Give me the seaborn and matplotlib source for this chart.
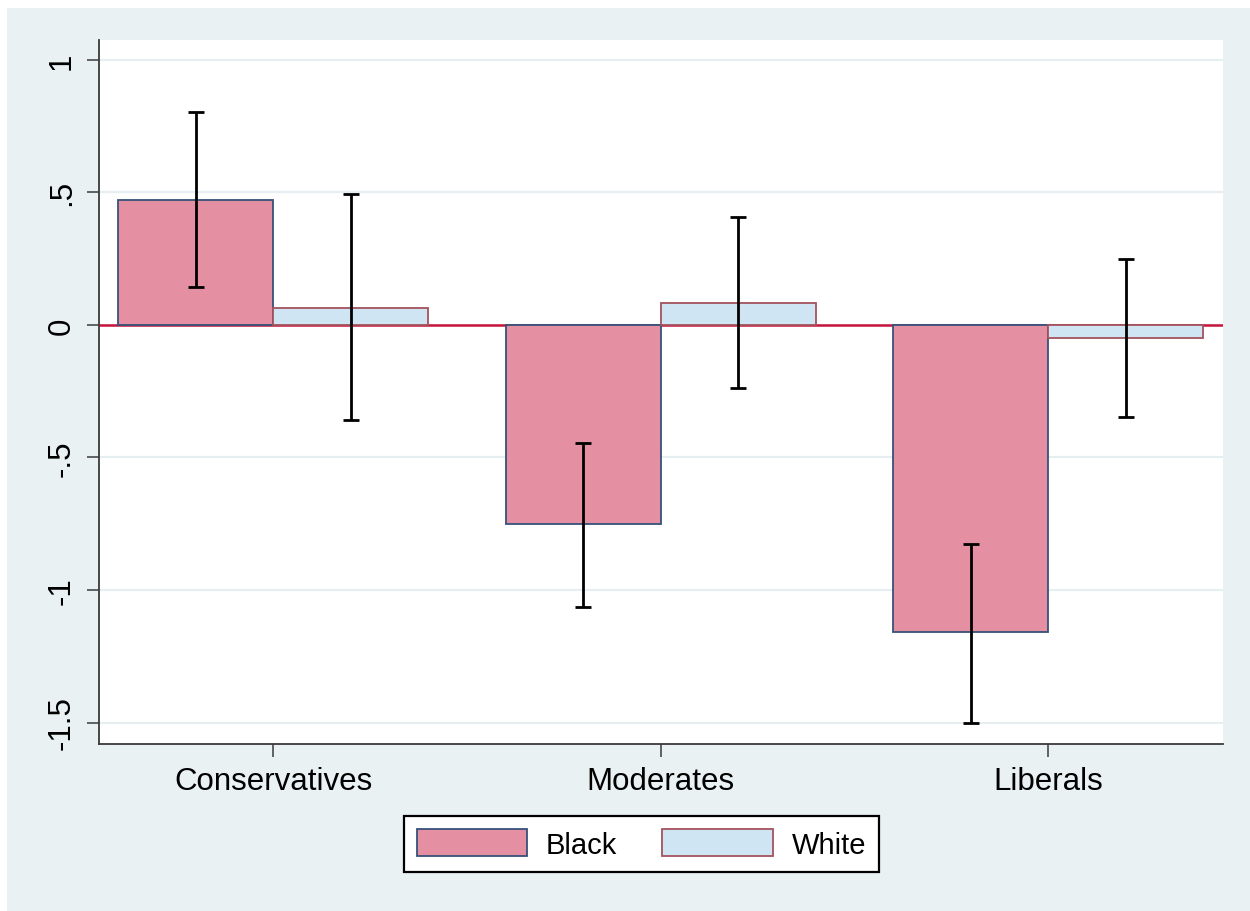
import matplotlib
matplotlib.use("Agg")
import matplotlib.pyplot as plt
from matplotlib.patches import Rectangle, Patch
import numpy as np
import pandas as pd
import seaborn as sns

# Group labels and series
groups = ["Conservatives", "Moderates", "Liberals"]
series = ["Black", "White"]

black_mean = [0.47, -0.75, -1.16]
white_mean = [0.065, 0.082, -0.048]

# 95% confidence bounds
black_lo = [0.145, -1.063, -1.503]
black_hi = [0.803, -0.447, -0.826]
white_lo = [-0.358, -0.239, -0.348]
white_hi = [0.494, 0.406, 0.248]

y_ticks = [1, 0.5, 0, -0.5, -1, -1.5]
y_tick_labels = ["1", ".5", "0", "-.5", "-1", "-1.5"]

# Styling
fill_colors = {"Black": "#E48FA2", "White": "#CFE5F4"}
edge_colors = {"Black": "#36527A", "White": "#A4525D"}
bg_color = "#EAF1F3"
grid_color = "#E6EEF1"
zero_color = "#C8143C"

sns.set_theme(style="white")
plt.rcParams["font.family"] = ["Liberation Sans", "DejaVu Sans"]

df = pd.DataFrame({
    "group": groups * 2,
    "race": ["Black"] * 3 + ["White"] * 3,
    "value": black_mean + white_mean,
})

W, H = 1250, 912
fig = plt.figure(figsize=(W / 100, H / 100), dpi=100, facecolor="white")
fig.patches.append(Rectangle((7 / W, 0), 1 - 7 / W, 1 - 9 / H,
                             transform=fig.transFigure, facecolor=bg_color,
                             edgecolor="none", zorder=-10))

ax = fig.add_axes([99 / W, 1 - 745 / H, (1222.5 - 99) / W, (745 - 41) / H])
ax.set_facecolor("white")

sns.barplot(data=df, x="group", y="value", hue="race", order=groups,
            hue_order=series, palette=[fill_colors[s] for s in series],
            errorbar=None, width=0.8, saturation=1, ax=ax, zorder=3)

lows = {"Black": black_lo, "White": white_lo}
highs = {"Black": black_hi, "White": white_hi}
for cont, s in zip(ax.containers, series):
    xs = []
    for bar in cont:
        bar.set_edgecolor(edge_colors[s])
        bar.set_linewidth(1.3)
        xs.append(bar.get_x() + bar.get_width() / 2)
    lo = np.array(lows[s])
    hi = np.array(highs[s])
    mid = (lo + hi) / 2
    ax.errorbar(xs, mid, yerr=[mid - lo, hi - mid], fmt="none",
                ecolor="black", elinewidth=2.0, capsize=5.8, capthick=2.0,
                zorder=5)

ax.axhline(0, color=zero_color, linewidth=1.8, zorder=2)

ax.set_xlim(-0.45, 2.45)
ax.set_ylim(-1.581, 1.075)
ax.set_yticks(y_ticks)
ax.set_yticklabels(y_tick_labels, rotation=90, va="center")
ax.yaxis.grid(True, color=grid_color, linewidth=1.6, zorder=0)
ax.xaxis.grid(False)
ax.set_axisbelow(True)
ax.set_xlabel("")
ax.set_ylabel("")

for side in ["top", "right"]:
    ax.spines[side].set_visible(False)
for side in ["left", "bottom"]:
    ax.spines[side].set_color("#3a3a3a")
    ax.spines[side].set_linewidth(1.3)

ax.tick_params(axis="both", which="major", direction="out", length=9,
               width=1.1, color="#3a3a3a", labelsize=22.5, labelcolor="black",
               left=True, bottom=True)
ax.tick_params(axis="y", pad=7)
ax.tick_params(axis="x", pad=7)

leg = ax.get_legend()
if leg is not None:
    leg.remove()

handles = [Patch(facecolor=fill_colors[s], edgecolor=edge_colors[s],
                 linewidth=1.3) for s in series]
legend = fig.legend(handles, series, loc="center", ncol=2,
                    bbox_to_anchor=(641.5 / W, 1 - 845 / H),
                    bbox_transform=fig.transFigure, fontsize=21,
                    frameon=True, fancybox=False, edgecolor="black",
                    facecolor="white", framealpha=1, borderpad=0.45,
                    handlelength=3.78, handleheight=1.05, handletextpad=0.65,
                    columnspacing=1.55, borderaxespad=0, labelcolor="black")
legend.get_frame().set_linewidth(1.6)

fig.savefig("out.png", dpi=100, facecolor=fig.get_facecolor())
